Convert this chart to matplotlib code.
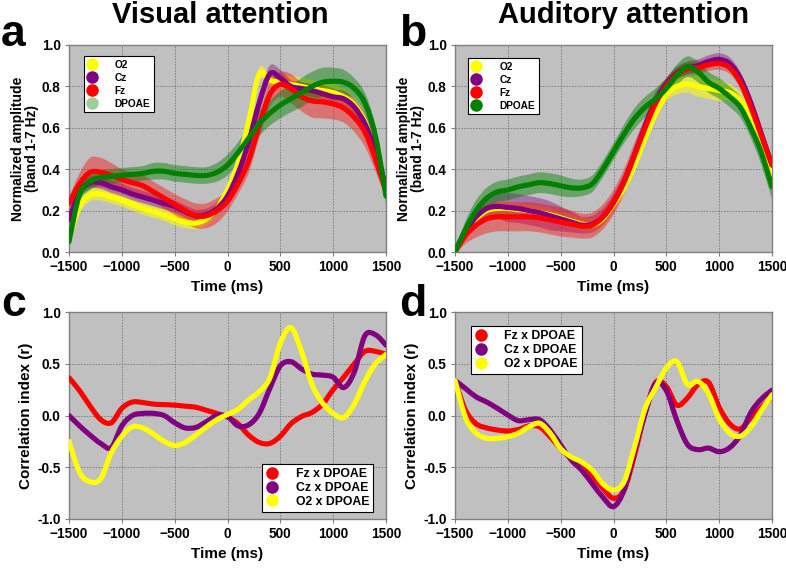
import matplotlib
matplotlib.use("Agg")
import matplotlib.pyplot as plt
import numpy as np
from matplotlib.lines import Line2D
from matplotlib.patches import PathPatch
from matplotlib.path import Path

plt.rcParams["font.family"] = ["Liberation Sans", "DejaVu Sans"]
plt.rcParams["font.weight"] = "bold"

# time axis shared by all panels (ms)
time_ms = list(range(-1500, 1501, 100))

# panel a - visual attention, normalized amplitude (mean and half band width)
a_o2 = [0.06, 0.22, 0.275, 0.28, 0.265, 0.25, 0.23, 0.21, 0.195, 0.18, 0.16, 0.145, 0.14, 0.16, 0.21, 0.30,
        0.43, 0.63, 0.86, 0.83, 0.82, 0.81, 0.80, 0.79, 0.78, 0.77, 0.75, 0.71, 0.63, 0.48, 0.28]
a_o2_err = [0.02, 0.03, 0.03, 0.03, 0.03, 0.03, 0.03, 0.03, 0.03, 0.03, 0.03, 0.03, 0.03, 0.03, 0.03, 0.03,
            0.03, 0.03, 0.03, 0.03, 0.03, 0.04, 0.04, 0.04, 0.04, 0.04, 0.04, 0.04, 0.04, 0.04, 0.03]
a_cz = [0.155, 0.29, 0.335, 0.335, 0.315, 0.30, 0.28, 0.265, 0.25, 0.235, 0.22, 0.195, 0.175, 0.18, 0.21, 0.27,
        0.38, 0.53, 0.72, 0.86, 0.84, 0.80, 0.79, 0.78, 0.765, 0.75, 0.74, 0.70, 0.62, 0.49, 0.31]
a_cz_err = [0.02, 0.03, 0.03, 0.03, 0.03, 0.03, 0.03, 0.03, 0.03, 0.03, 0.03, 0.03, 0.03, 0.03, 0.03, 0.03,
            0.03, 0.03, 0.04, 0.04, 0.04, 0.03, 0.03, 0.03, 0.03, 0.03, 0.04, 0.04, 0.05, 0.05, 0.03]
a_fz = [0.235, 0.33, 0.385, 0.385, 0.37, 0.35, 0.335, 0.32, 0.29, 0.26, 0.23, 0.20, 0.175, 0.175, 0.20, 0.245,
        0.33, 0.44, 0.61, 0.76, 0.81, 0.79, 0.75, 0.73, 0.725, 0.715, 0.695, 0.65, 0.58, 0.45, 0.29]
a_fz_err = [0.03, 0.05, 0.07, 0.07, 0.06, 0.05, 0.05, 0.05, 0.05, 0.05, 0.05, 0.055, 0.06, 0.06, 0.06, 0.05,
            0.05, 0.06, 0.06, 0.06, 0.06, 0.07, 0.07, 0.08, 0.08, 0.075, 0.07, 0.07, 0.07, 0.06, 0.03]
a_dp = [0.05, 0.28, 0.34, 0.36, 0.365, 0.37, 0.375, 0.38, 0.39, 0.39, 0.38, 0.375, 0.37, 0.37, 0.385, 0.42,
        0.48, 0.55, 0.62, 0.67, 0.71, 0.74, 0.77, 0.80, 0.82, 0.825, 0.82, 0.79, 0.72, 0.56, 0.27]
a_dp_err = [0.03, 0.04, 0.04, 0.035, 0.035, 0.035, 0.035, 0.035, 0.04, 0.04, 0.04, 0.04, 0.04, 0.04, 0.045, 0.05,
            0.05, 0.055, 0.06, 0.06, 0.065, 0.065, 0.07, 0.07, 0.07, 0.065, 0.06, 0.05, 0.05, 0.05, 0.04]

# panel b - auditory attention
b_o2 = [0.0, 0.09, 0.16, 0.20, 0.21, 0.21, 0.205, 0.20, 0.19, 0.18, 0.165, 0.15, 0.135, 0.13, 0.16, 0.23,
        0.31, 0.42, 0.55, 0.67, 0.76, 0.80, 0.81, 0.80, 0.79, 0.78, 0.77, 0.73, 0.64, 0.52, 0.37]
b_o2_err = [0.01, 0.03, 0.03, 0.03, 0.03, 0.03, 0.03, 0.03, 0.03, 0.03, 0.03, 0.03, 0.03, 0.03, 0.03, 0.03,
            0.03, 0.03, 0.03, 0.03, 0.03, 0.04, 0.04, 0.05, 0.05, 0.05, 0.04, 0.04, 0.04, 0.04, 0.03]
b_cz = [0.0, 0.10, 0.17, 0.21, 0.22, 0.215, 0.21, 0.20, 0.19, 0.175, 0.16, 0.145, 0.13, 0.135, 0.17, 0.24,
        0.34, 0.47, 0.61, 0.73, 0.81, 0.865, 0.89, 0.90, 0.92, 0.93, 0.91, 0.84, 0.72, 0.57, 0.42]
b_cz_err = [0.01, 0.03, 0.04, 0.05, 0.06, 0.07, 0.07, 0.07, 0.07, 0.07, 0.06, 0.05, 0.04, 0.04, 0.04, 0.04,
            0.04, 0.04, 0.04, 0.04, 0.03, 0.03, 0.03, 0.03, 0.03, 0.03, 0.03, 0.03, 0.03, 0.03, 0.02]
b_fz = [0.0, 0.08, 0.13, 0.16, 0.17, 0.17, 0.17, 0.17, 0.165, 0.155, 0.145, 0.135, 0.125, 0.13, 0.17, 0.24,
        0.34, 0.47, 0.60, 0.72, 0.80, 0.86, 0.885, 0.89, 0.905, 0.91, 0.89, 0.82, 0.70, 0.56, 0.42]
b_fz_err = [0.01, 0.04, 0.06, 0.07, 0.07, 0.07, 0.07, 0.07, 0.07, 0.07, 0.07, 0.065, 0.06, 0.06, 0.06, 0.06,
            0.06, 0.06, 0.05, 0.05, 0.04, 0.03, 0.03, 0.03, 0.03, 0.03, 0.03, 0.03, 0.03, 0.03, 0.02]
b_dp = [0.0, 0.11, 0.20, 0.26, 0.29, 0.30, 0.315, 0.325, 0.335, 0.33, 0.32, 0.31, 0.31, 0.33, 0.40, 0.485,
        0.57, 0.645, 0.70, 0.74, 0.79, 0.855, 0.895, 0.87, 0.82, 0.79, 0.75, 0.70, 0.60, 0.48, 0.315]
b_dp_err = [0.01, 0.04, 0.05, 0.05, 0.05, 0.05, 0.05, 0.05, 0.05, 0.05, 0.05, 0.045, 0.04, 0.04, 0.04, 0.04,
            0.045, 0.05, 0.05, 0.05, 0.05, 0.05, 0.05, 0.05, 0.05, 0.05, 0.05, 0.05, 0.05, 0.06, 0.06]

# panel c - visual attention, correlation with DPOAE
c_fz = [0.365, 0.24, 0.09, -0.04, -0.07, 0.07, 0.13, 0.125, 0.11, 0.105, 0.10, 0.09, 0.08, 0.05, 0.02, -0.015,
        -0.08, -0.19, -0.26, -0.27, -0.20, -0.08, -0.01, 0.03, 0.11, 0.25, 0.37, 0.50, 0.62, 0.62, 0.59]
c_cz = [0.0, -0.10, -0.19, -0.27, -0.31, -0.10, 0.0, 0.02, 0.02, 0.0, -0.07, -0.12, -0.115, -0.06, 0.0, -0.01,
        -0.10, -0.09, 0.02, 0.26, 0.48, 0.52, 0.45, 0.40, 0.39, 0.37, 0.27, 0.42, 0.77, 0.78, 0.68]
c_o2 = [-0.25, -0.55, -0.64, -0.61, -0.36, -0.20, -0.11, -0.12, -0.18, -0.25, -0.29, -0.26, -0.19, -0.11, -0.04, 0.01,
        0.06, 0.15, 0.23, 0.36, 0.70, 0.85, 0.62, 0.30, 0.12, 0.02, -0.02, 0.11, 0.33, 0.50, 0.59]

# panel d - auditory attention, correlation with DPOAE
d_fz = [0.34, 0.05, -0.08, -0.12, -0.14, -0.15, -0.135, -0.10, -0.11, -0.205, -0.32, -0.415, -0.46, -0.58, -0.705, -0.80,
        -0.72, -0.38, 0.03, 0.32, 0.28, 0.10, 0.17, 0.30, 0.32, 0.08, -0.08, -0.13, -0.02, 0.08, 0.185]
d_cz = [0.34, 0.26, 0.18, 0.13, 0.07, 0.005, -0.05, -0.04, -0.04, -0.14, -0.285, -0.43, -0.53, -0.66, -0.79, -0.88,
        -0.72, -0.34, 0.02, 0.31, 0.24, -0.05, -0.28, -0.33, -0.315, -0.35, -0.31, -0.19, 0.03, 0.16, 0.245]
d_o2 = [0.34, -0.02, -0.17, -0.22, -0.22, -0.205, -0.17, -0.11, -0.075, -0.17, -0.32, -0.40, -0.45, -0.53, -0.66, -0.72,
        -0.64, -0.30, 0.07, 0.27, 0.46, 0.52, 0.30, 0.33, 0.21, -0.03, -0.17, -0.20, -0.11, 0.05, 0.20]

YELLOW = "#FFFF00"
PURPLE = "#800080"
RED = "#FF0000"
GREEN = "#008000"
PALE_GREEN = "#9DCC9D"


def _bezier_chain(x, y):
    """Smooth (Excel-like) curve through the points as a chain of cubic Beziers."""
    pts = np.column_stack([x, y]).astype(float)
    pad = np.vstack([pts[0], pts, pts[-1]])
    verts = [pts[0]]
    for i in range(len(pts) - 1):
        p0, p1, p2, p3 = pad[i], pad[i + 1], pad[i + 2], pad[i + 3]
        verts += [p1 + (p2 - p0) / 6, p2 - (p3 - p1) / 6, p2]
    return np.array(verts)


def draw_line(ax, y, color, lw=3.7):
    verts = _bezier_chain(time_ms, y)
    codes = [Path.MOVETO] + [Path.CURVE4] * (len(verts) - 1)
    ax.add_patch(PathPatch(Path(verts, codes), fill=False, edgecolor=color, lw=lw,
                           capstyle="round", joinstyle="round", zorder=3))


def draw_band(ax, y, err, color, alpha):
    y = np.asarray(y)
    err = np.asarray(err)
    upper = _bezier_chain(time_ms, y + err)
    lower = _bezier_chain(time_ms, y - err)[::-1]
    verts = np.vstack([upper, lower, upper[:1]])
    n = len(upper)
    codes = ([Path.MOVETO] + [Path.CURVE4] * (n - 1) + [Path.LINETO]
             + [Path.CURVE4] * (n - 1) + [Path.CLOSEPOLY])
    ax.add_patch(PathPatch(Path(verts, codes), facecolor=color, edgecolor="none",
                           alpha=alpha, zorder=2))


def style_axes(ax, ylim, yticks, yfmt):
    ax.set_facecolor("#C0C0C0")
    ax.set_xlim(-1500, 1500)
    ax.set_ylim(*ylim)
    ax.set_xticks(range(-1500, 1501, 500))
    ax.set_yticks(yticks)
    ax.set_yticklabels([yfmt.format(v) for v in yticks])
    ax.grid(True, color="#7A7A7A", linestyle=(0, (1.5, 1.5)), linewidth=0.7)
    ax.set_axisbelow(True)
    for sp in ax.spines.values():
        sp.set_color("#808080")
        sp.set_linewidth(1.0)
    ax.tick_params(axis="both", direction="out", length=3, width=0.8, color="#808080",
                   labelsize=9.8, pad=3)
    for lab in ax.get_xticklabels() + ax.get_yticklabels():
        lab.set_fontweight("bold")
    ax.set_xlabel("Time (ms)", fontsize=11, fontweight="bold", labelpad=4)


def legend(ax, entries, anchor, loc, fontsize, rowgap, textpad):
    handles = [Line2D([], [], linestyle="none", marker="o", markersize=8,
                      markerfacecolor=c, markeredgecolor=c) for c, _ in entries]
    leg = ax.legend(handles, [t for _, t in entries], loc=loc, bbox_to_anchor=anchor,
                    frameon=True, fancybox=False, framealpha=1,
                    edgecolor="black", handlelength=0.9, handletextpad=textpad,
                    labelspacing=rowgap, borderpad=0.35, borderaxespad=0,
                    prop={"weight": "bold", "size": fontsize})
    leg.get_frame().set_linewidth(0.8)
    leg.set_zorder(5)


fig = plt.figure(figsize=(7.86, 5.70), dpi=100)
W, H = 786, 570
ax_w, ax_h = 317 / W, 207 / H
ax_a = fig.add_axes([69 / W, 1 - 252 / H, ax_w, ax_h])
ax_b = fig.add_axes([455 / W, 1 - 252 / H, ax_w, ax_h])
ax_c = fig.add_axes([69 / W, 1 - 519 / H, ax_w, ax_h])
ax_d = fig.add_axes([455 / W, 1 - 519 / H, ax_w, ax_h])

amp_ticks = [0.0, 0.2, 0.4, 0.6, 0.8, 1.0]
corr_ticks = [-1.0, -0.5, 0.0, 0.5, 1.0]

# amplitude panels
for ax, series in [
    (ax_a, [(a_o2, a_o2_err, YELLOW, 0.55), (a_cz, a_cz_err, PURPLE, 0.4),
            (a_fz, a_fz_err, RED, 0.4), (a_dp, a_dp_err, GREEN, 0.45)]),
    (ax_b, [(b_o2, b_o2_err, YELLOW, 0.55), (b_cz, b_cz_err, PURPLE, 0.4),
            (b_fz, b_fz_err, RED, 0.4), (b_dp, b_dp_err, GREEN, 0.45)]),
]:
    style_axes(ax, (0, 1.0), amp_ticks, "{:.1f}")
    for y, err, color, alpha in series:
        draw_band(ax, y, err, color, alpha)
        draw_line(ax, y, color)
    ax.set_ylabel("Normalized amplitude\n(band 1-7 Hz)", fontsize=10, fontweight="bold",
                  labelpad=2, linespacing=1.0)

legend(ax_a, [(YELLOW, "O2"), (PURPLE, "Cz"), (RED, "Fz"), (PALE_GREEN, "DPOAE")],
       (0.047, 0.947), "upper left", 7.3, 0.3, 1.8)
legend(ax_b, [(YELLOW, "O2"), (PURPLE, "Cz"), (RED, "Fz"), (GREEN, "DPOAE")],
       (0.042, 0.937), "upper left", 7.3, 0.3, 1.8)

# correlation panels
for ax, series in [
    (ax_c, [(c_fz, RED), (c_cz, PURPLE), (c_o2, YELLOW)]),
    (ax_d, [(d_fz, RED), (d_cz, PURPLE), (d_o2, YELLOW)]),
]:
    style_axes(ax, (-1.0, 1.0), corr_ticks, "{:.1f}")
    for y, color in series:
        draw_line(ax, y, color)
    ax.set_ylabel("Correlation index (r)", fontsize=11, fontweight="bold", labelpad=3)

corr_entries = [(RED, "Fz x DPOAE"), (PURPLE, "Cz x DPOAE"), (YELLOW, "O2 x DPOAE")]
legend(ax_c, corr_entries, (0.609, 0.034), "lower left", 8.8, 0.15, 1.5)
legend(ax_d, corr_entries, (0.05, 0.932), "upper left", 8.8, 0.15, 1.5)

# titles and panel letters
fig.text(220 / W, 1 - 1 / H, "Visual attention", fontsize=21, fontweight="bold",
         ha="center", va="top")
fig.text(623 / W, 1 - 1 / H, "Auditory attention", fontsize=21, fontweight="bold",
         ha="center", va="top")
for x, y, letter in [(1, 46, "a"), (399, 46, "b"), (1, 316, "c"), (399, 316, "d")]:
    fig.text(x / W, 1 - y / H, letter, fontsize=32, fontweight="bold", ha="left", va="baseline")

fig.savefig("out.png", dpi=100)
